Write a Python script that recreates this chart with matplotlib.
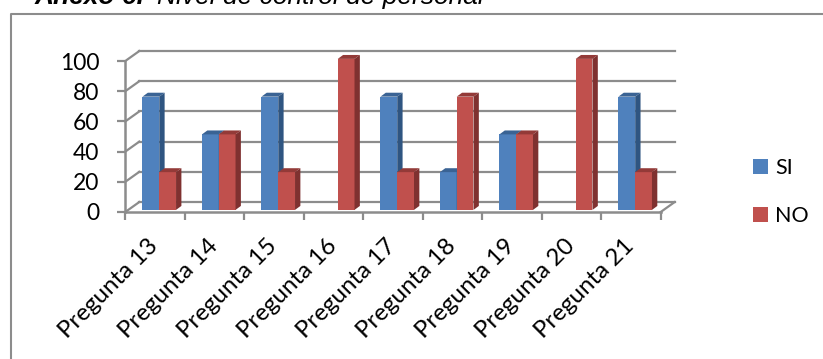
import matplotlib
matplotlib.use('Agg')
import matplotlib.pyplot as plt
from matplotlib.patches import Polygon, Rectangle

categorias = ['Pregunta 13', 'Pregunta 14', 'Pregunta 15', 'Pregunta 16', 'Pregunta 17',
              'Pregunta 18', 'Pregunta 19', 'Pregunta 20', 'Pregunta 21']
si = [75, 50, 75, 0, 75, 25, 50, 0, 75]
no = [25, 50, 25, 100, 25, 75, 50, 100, 25]
yticks = [0, 20, 40, 60, 80, 100]

W, H = 823, 359
plt.rcParams['font.family'] = ['Lato', 'DejaVu Sans']

fig = plt.figure(figsize=(W / 100, H / 100), dpi=100)
# ejes en la zona del plano frontal del grafico
ax = fig.add_axes([125.3 / W, 1 - 212 / H, (660.7 - 125.3) / W, (212 - 61) / H])
ax.set_xlim(0, 9)
ax.set_ylim(0, 100)
ax.patch.set_alpha(0)
for lado in ['top', 'right', 'bottom', 'left']:
    ax.spines[lado].set_visible(False)

gris = '#8c8c8c'
# desplazamiento de profundidad del suelo y de las barras
dx_fondo, dy_fondo = 0.235, 6.6
dx_barra, dy_barra = 0.09, 2.6
base = 1.4
ancho = 0.282
centro = 0.571

# rejilla del fondo y paredes
for v in yticks:
    ax.plot([0, dx_fondo], [v, v + dy_fondo], color=gris, lw=1.6, clip_on=False, zorder=1)
    ax.plot([dx_fondo, 9 + dx_fondo], [v + dy_fondo, v + dy_fondo], color=gris, lw=1.6,
            clip_on=False, zorder=1)
ax.plot([0, 9], [0, 0], color=gris, lw=1.8, clip_on=False, zorder=2)
ax.plot([0, 0], [0, 100], color=gris, lw=1.8, clip_on=False, zorder=2)
ax.plot([9, 9 + dx_fondo], [0, dy_fondo], color=gris, lw=1.6, clip_on=False, zorder=2)


def barra3d(x, valor, color, oscuro, medio, z):
    if valor == 0:
        return
    ax.bar(x, valor, width=ancho, bottom=base, align='edge', color=color, linewidth=0,
           clip_on=False, zorder=z)
    top = base + valor
    ax.add_patch(Polygon([(x, top), (x + ancho, top), (x + ancho + dx_barra, top + dy_barra),
                          (x + dx_barra, top + dy_barra)], color=medio, lw=0, clip_on=False, zorder=z))
    ax.add_patch(Polygon([(x + ancho, base), (x + ancho + dx_barra, base + dy_barra),
                          (x + ancho + dx_barra, top + dy_barra), (x + ancho, top)],
                         color=oscuro, lw=0, clip_on=False, zorder=z))


for i in range(len(categorias)):
    barra3d(i + centro - ancho, si[i], '#4f81bd', '#2f5581', '#3a6394', 3 + i)
    barra3d(i + centro, no[i], '#c0504d', '#7f3130', '#933a38', 3.5 + i)

ax.set_yticks(yticks)
ax.set_xticks(range(10))
ax.set_xticklabels([])
ax.tick_params(axis='both', which='major', color=gris, width=1.6, length=5.8, labelsize=16.5)
ax.tick_params(axis='y', pad=13)
ax.set_xticks([i + 0.37 for i in range(9)], categorias, minor=True)
ax.tick_params(axis='x', which='minor', length=0, labelsize=17.3, pad=17)
for t in ax.get_xticklabels(minor=True):
    t.set_rotation(45)
    t.set_ha('right')
    t.set_va('top')
    t.set_rotation_mode('anchor')

# leyenda
leyenda = [('SI', '#4f81bd', 166.5), ('NO', '#c0504d', 214.5)]
for nombre, color, yc in leyenda:
    fig.add_artist(Rectangle((753 / W, 1 - (yc + 7.5) / H), 15 / W, 15 / H, color=color, lw=0,
                             transform=fig.transFigure))
    fig.text(775 / W, 1 - (yc + 1) / H, nombre, fontsize=15.5, va='center', ha='left', color='black')

# marco del grafico, abierto por la derecha y por abajo
fig.add_artist(plt.Line2D([10.5 / W, 10.5 / W, 1], [0, 1 - 14 / H, 1 - 14 / H], color=gris, lw=1.5,
                          transform=fig.transFigure))

# encabezado
fig.text(35 / W, 1 - 4 / H, 'Anexo 6.', family='Liberation Sans', fontsize=19, weight='bold', style='italic',
         va='baseline', ha='left')
fig.text(157 / W, 1 - 4 / H, 'Nivel de control de personal', family='Liberation Sans', fontsize=19,
         style='italic', va='baseline', ha='left')

fig.savefig('out.png', dpi=100)
